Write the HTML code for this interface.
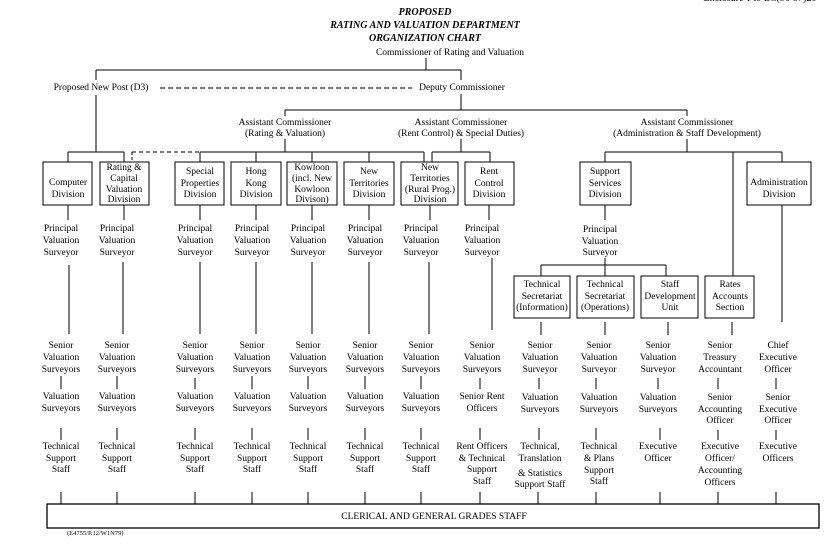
<!DOCTYPE html>
<html><head><meta charset="utf-8"><style>
html,body{margin:0;padding:0;background:#fff;}
svg{display:block;}
text{font-family:"Liberation Serif",serif;font-size:9.5px;fill:#000;}
.t{font-style:italic;font-weight:bold;font-size:10px;}
.b4{font-size:9px;}
</style></head><body>
<svg width="830" height="549" viewBox="0 0 830 549" xmlns="http://www.w3.org/2000/svg">
<g stroke="#000" stroke-width="1" fill="none">
<line x1="426" y1="58" x2="426" y2="70"/>
<line x1="96" y1="70" x2="461" y2="70"/>
<line x1="96" y1="70" x2="96" y2="80"/>
<line x1="461" y1="70" x2="461" y2="80"/>
<line x1="160" y1="88" x2="412" y2="88" stroke-dasharray="5,3"/>
<line x1="96" y1="95" x2="96" y2="152"/>
<line x1="461" y1="94" x2="461" y2="110"/>
<line x1="285" y1="110" x2="687" y2="110"/>
<line x1="285" y1="110" x2="285" y2="116"/>
<line x1="687" y1="110" x2="687" y2="116"/>
<line x1="285" y1="139" x2="285" y2="152"/>
<line x1="461" y1="139" x2="461" y2="152"/>
<line x1="687" y1="139" x2="687" y2="152"/>
<line x1="68" y1="152" x2="124" y2="152"/>
<line x1="68" y1="152" x2="68" y2="162"/>
<line x1="124" y1="152" x2="124" y2="162"/>
<line x1="132" y1="152" x2="200" y2="152" stroke-dasharray="4,3"/>
<line x1="132" y1="152" x2="132" y2="162" stroke-dasharray="3,2"/>
<line x1="200" y1="152" x2="424" y2="152"/>
<line x1="200" y1="152" x2="200" y2="162"/>
<line x1="256" y1="152" x2="256" y2="162"/>
<line x1="312" y1="152" x2="312" y2="162"/>
<line x1="369" y1="152" x2="369" y2="162"/>
<line x1="424" y1="152" x2="424" y2="162"/>
<line x1="432" y1="152" x2="490" y2="152"/>
<line x1="432" y1="152" x2="432" y2="162"/>
<line x1="490" y1="152" x2="490" y2="162"/>
<line x1="605" y1="152" x2="782" y2="152"/>
<line x1="605" y1="152" x2="605" y2="162"/>
<line x1="782" y1="152" x2="782" y2="162"/>
<line x1="733" y1="152" x2="733" y2="276"/>
<rect x="43" y="162" width="49" height="43"/>
<rect x="100" y="162" width="49" height="43"/>
<rect x="175" y="162" width="49" height="43"/>
<rect x="231" y="162" width="50" height="43"/>
<rect x="287" y="162" width="50" height="43"/>
<rect x="344" y="162" width="50" height="43"/>
<rect x="401" y="162" width="57" height="43"/>
<rect x="465" y="162" width="49" height="43"/>
<rect x="580" y="162" width="51" height="43"/>
<rect x="747" y="162" width="64" height="43"/>
<line x1="68" y1="205" x2="68" y2="220"/>
<line x1="124" y1="205" x2="124" y2="220"/>
<line x1="200" y1="205" x2="200" y2="220"/>
<line x1="256" y1="205" x2="256" y2="220"/>
<line x1="312" y1="205" x2="312" y2="220"/>
<line x1="369" y1="205" x2="369" y2="220"/>
<line x1="430" y1="205" x2="430" y2="220"/>
<line x1="489" y1="205" x2="489" y2="220"/>
<line x1="605" y1="205" x2="605" y2="220"/>
<line x1="782" y1="205" x2="782" y2="322"/>
<line x1="69" y1="265" x2="69" y2="334"/>
<line x1="123" y1="262" x2="123" y2="334"/>
<line x1="200" y1="262" x2="200" y2="334"/>
<line x1="256" y1="262" x2="256" y2="334"/>
<line x1="312" y1="262" x2="312" y2="334"/>
<line x1="369" y1="262" x2="369" y2="334"/>
<line x1="429" y1="262" x2="429" y2="334"/>
<line x1="492" y1="258" x2="492" y2="330"/>
<line x1="605" y1="258" x2="605" y2="265"/>
<line x1="541" y1="265" x2="666" y2="265"/>
<line x1="541" y1="265" x2="541" y2="276"/>
<line x1="605" y1="265" x2="605" y2="276"/>
<line x1="666" y1="265" x2="666" y2="276"/>
<rect x="514" y="276" width="56" height="42"/>
<rect x="577" y="276" width="57" height="42"/>
<rect x="641" y="276" width="57" height="42"/>
<rect x="705" y="276" width="49" height="42"/>
<line x1="541" y1="322" x2="541" y2="335"/>
<line x1="605" y1="322" x2="605" y2="335"/>
<line x1="668" y1="322" x2="668" y2="335"/>
<line x1="732" y1="322" x2="732" y2="335"/>
<g>
<line x1="61" y1="376" x2="61" y2="389"/><line x1="117" y1="376" x2="117" y2="389"/>
<line x1="195" y1="378" x2="195" y2="389"/><line x1="252" y1="376" x2="252" y2="389"/>
<line x1="308" y1="376" x2="308" y2="389"/><line x1="365" y1="376" x2="365" y2="389"/>
<line x1="421" y1="376" x2="421" y2="389"/><line x1="480" y1="378" x2="480" y2="389"/>
<line x1="539" y1="378" x2="539" y2="389"/><line x1="596" y1="378" x2="596" y2="389"/>
<line x1="658" y1="378" x2="658" y2="389"/><line x1="718" y1="378" x2="718" y2="389"/>
<line x1="776" y1="378" x2="776" y2="389"/>
</g>
<g>
<line x1="61" y1="428" x2="61" y2="440"/><line x1="117" y1="428" x2="117" y2="440"/>
<line x1="195" y1="428" x2="195" y2="440"/><line x1="252" y1="428" x2="252" y2="440"/>
<line x1="308" y1="428" x2="308" y2="440"/><line x1="365" y1="428" x2="365" y2="440"/>
<line x1="421" y1="428" x2="421" y2="440"/><line x1="480" y1="428" x2="480" y2="440"/>
<line x1="539" y1="428" x2="539" y2="440"/><line x1="596" y1="428" x2="596" y2="440"/>
<line x1="660" y1="428" x2="660" y2="440"/><line x1="718" y1="430" x2="718" y2="440"/>
<line x1="776" y1="430" x2="776" y2="440"/>
</g>
<g>
<line x1="61" y1="492" x2="61" y2="504"/><line x1="117" y1="492" x2="117" y2="504"/>
<line x1="195" y1="492" x2="195" y2="504"/><line x1="252" y1="492" x2="252" y2="504"/>
<line x1="308" y1="492" x2="308" y2="504"/><line x1="365" y1="492" x2="365" y2="504"/>
<line x1="421" y1="492" x2="421" y2="504"/><line x1="480" y1="492" x2="480" y2="504"/>
<line x1="538" y1="492" x2="538" y2="504"/><line x1="596" y1="492" x2="596" y2="504"/>
<line x1="660" y1="492" x2="660" y2="504"/><line x1="718" y1="492" x2="718" y2="504"/>
<line x1="776" y1="492" x2="776" y2="504"/>
</g>
<rect x="47" y="504" width="772" height="24" stroke-width="1.3"/>
</g>
<g text-anchor="middle">
<text x="760" y="1" style="font-size:10px">Enclosure 1 to EC(96-97)20</text>
<text class="t" x="425" y="15">PROPOSED</text>
<text class="t" x="425" y="28">RATING AND VALUATION DEPARTMENT</text>
<text class="t" x="425" y="41">ORGANIZATION CHART</text>
<text x="450" y="55">Commissioner of Rating and Valuation</text>
<text x="101" y="90">Proposed New Post (D3)</text>
<text x="462" y="90">Deputy Commissioner</text>
<text x="285" y="125">Assistant Commissioner</text><text x="285" y="136">(Rating &amp; Valuation)</text>
<text x="461" y="125">Assistant Commissioner</text><text x="461" y="136">(Rent Control) &amp; Special Duties)</text>
<text x="687" y="125">Assistant Commissioner</text><text x="687" y="136">(Administration &amp; Staff Development)</text>

<text x="68" y="185">Computer</text><text x="68" y="197">Division</text>
<g class="b4"><text x="124" y="170">Rating &amp;</text><text x="124" y="181">Capital</text><text x="124" y="192">Valuation</text><text x="124" y="202">Division</text></g>
<text x="200" y="174">Special</text><text x="200" y="186">Properties</text><text x="200" y="197">Division</text>
<text x="256" y="174">Hong</text><text x="256" y="186">Kong</text><text x="256" y="197">Division</text>
<g class="b4"><text x="312" y="170">Kowloon</text><text x="312" y="181">(incl. New</text><text x="312" y="192">Kowloon</text><text x="312" y="202">Divison)</text></g>
<text x="369" y="174">New</text><text x="369" y="186">Territories</text><text x="369" y="197">Division</text>
<g class="b4"><text x="430" y="170">New</text><text x="430" y="181">Territories</text><text x="430" y="192">(Rural Prog.)</text><text x="430" y="202">Division</text></g>
<text x="489" y="174">Rent</text><text x="489" y="186">Control</text><text x="489" y="197">Division</text>
<text x="605" y="174">Support</text><text x="605" y="186">Services</text><text x="605" y="197">Division</text>
<text x="779" y="185">Administration</text><text x="779" y="197">Division</text>

<text x="542" y="287">Technical</text><text x="542" y="299">Secretariat</text><text x="542" y="310">(Information)</text>
<text x="605" y="287">Technical</text><text x="605" y="299">Secretariat</text><text x="605" y="310">(Operations)</text>
<text x="670" y="287">Staff</text><text x="670" y="299">Development</text><text x="670" y="310">Unit</text>
<text x="730" y="287">Rates</text><text x="730" y="299">Accounts</text><text x="730" y="310">Section</text>
</g>
<g text-anchor="middle">
<g>
<text x="61" y="231">Principal</text><text x="61" y="243">Valuation</text><text x="61" y="255">Surveyor</text>
<text x="117" y="231">Principal</text><text x="117" y="243">Valuation</text><text x="117" y="255">Surveyor</text>
<text x="195" y="231">Principal</text><text x="195" y="243">Valuation</text><text x="195" y="255">Surveyor</text>
<text x="252" y="231">Principal</text><text x="252" y="243">Valuation</text><text x="252" y="255">Surveyor</text>
<text x="308" y="231">Principal</text><text x="308" y="243">Valuation</text><text x="308" y="255">Surveyor</text>
<text x="365" y="231">Principal</text><text x="365" y="243">Valuation</text><text x="365" y="255">Surveyor</text>
<text x="421" y="231">Principal</text><text x="421" y="243">Valuation</text><text x="421" y="255">Surveyor</text>
<text x="482" y="231">Principal</text><text x="482" y="243">Valuation</text><text x="482" y="255">Surveyor</text>
<text x="600" y="232">Principal</text><text x="600" y="244">Valuation</text><text x="600" y="255">Surveyor</text>
</g>
<g>
<text x="61" y="348">Senior</text><text x="61" y="360">Valuation</text><text x="61" y="372">Surveyors</text>
<text x="117" y="348">Senior</text><text x="117" y="360">Valuation</text><text x="117" y="372">Surveyors</text>
<text x="195" y="348">Senior</text><text x="195" y="360">Valuation</text><text x="195" y="372">Surveyors</text>
<text x="252" y="348">Senior</text><text x="252" y="360">Valuation</text><text x="252" y="372">Surveyors</text>
<text x="308" y="348">Senior</text><text x="308" y="360">Valuation</text><text x="308" y="372">Surveyors</text>
<text x="365" y="348">Senior</text><text x="365" y="360">Valuation</text><text x="365" y="372">Surveyors</text>
<text x="421" y="348">Senior</text><text x="421" y="360">Valuation</text><text x="421" y="372">Surveyors</text>
<text x="482" y="348">Senior</text><text x="482" y="360">Valuation</text><text x="482" y="372">Surveyors</text>
<text x="540" y="348">Senior</text><text x="540" y="360">Valuation</text><text x="540" y="372">Surveyor</text>
<text x="599" y="348">Senior</text><text x="599" y="360">Valuation</text><text x="599" y="372">Surveyor</text>
<text x="658" y="348">Senior</text><text x="658" y="360">Valuation</text><text x="658" y="372">Surveyor</text>
<text x="720" y="348">Senior</text><text x="720" y="360">Treasury</text><text x="720" y="372">Accountant</text>
<text x="778" y="348">Chief</text><text x="778" y="360">Executive</text><text x="778" y="372">Officer</text>
</g>
<g>
<text x="61" y="399">Valuation</text><text x="61" y="411">Surveyors</text>
<text x="117" y="399">Valuation</text><text x="117" y="411">Surveyors</text>
<text x="195" y="399">Valuation</text><text x="195" y="411">Surveyors</text>
<text x="252" y="399">Valuation</text><text x="252" y="411">Surveyors</text>
<text x="308" y="399">Valuation</text><text x="308" y="411">Surveyors</text>
<text x="365" y="399">Valuation</text><text x="365" y="411">Surveyors</text>
<text x="421" y="399">Valuation</text><text x="421" y="411">Surveyors</text>
<text x="482" y="399">Senior Rent</text><text x="482" y="411">Officers</text>
<text x="540" y="400">Valuation</text><text x="540" y="412">Surveyors</text>
<text x="599" y="400">Valuation</text><text x="599" y="412">Surveyors</text>
<text x="658" y="400">Valuation</text><text x="658" y="412">Surveyors</text>
<text x="720" y="400">Senior</text><text x="720" y="412">Accounting</text><text x="720" y="423">Officer</text>
<text x="778" y="400">Senior</text><text x="778" y="412">Executive</text><text x="778" y="423">Officer</text>
</g>
<g>
<text x="61" y="449">Technical</text><text x="61" y="461">Support</text><text x="61" y="472">Staff</text>
<text x="117" y="449">Technical</text><text x="117" y="461">Support</text><text x="117" y="472">Staff</text>
<text x="195" y="449">Technical</text><text x="195" y="461">Support</text><text x="195" y="472">Staff</text>
<text x="252" y="449">Technical</text><text x="252" y="461">Support</text><text x="252" y="472">Staff</text>
<text x="308" y="449">Technical</text><text x="308" y="461">Support</text><text x="308" y="472">Staff</text>
<text x="365" y="449">Technical</text><text x="365" y="461">Support</text><text x="365" y="472">Staff</text>
<text x="421" y="449">Technical</text><text x="421" y="461">Support</text><text x="421" y="472">Staff</text>
<text x="482" y="449">Rent Officers</text><text x="482" y="461">&amp; Technical</text><text x="482" y="472">Support</text><text x="482" y="484">Staff</text>
<text x="540" y="449">Technical,</text><text x="540" y="461">Translation</text><text x="540" y="476">&amp; Statistics</text><text x="540" y="487">Support Staff</text>
<text x="599" y="449">Technical</text><text x="599" y="461">&amp; Plans</text><text x="599" y="473">Support</text><text x="599" y="484">Staff</text>
<text x="658" y="449">Executive</text><text x="658" y="461">Officer</text>
<text x="720" y="449">Executive</text><text x="720" y="461">Officer/</text><text x="720" y="473">Accounting</text><text x="720" y="485">Officers</text>
<text x="778" y="449">Executive</text><text x="778" y="461">Officers</text>
</g>
<text x="434" y="519">CLERICAL AND GENERAL GRADES STAFF</text>
</g>
<text x="67" y="535" style="font-size:6.5px">(E4755/P.12/W1N79)</text>
</svg>
</body></html>
